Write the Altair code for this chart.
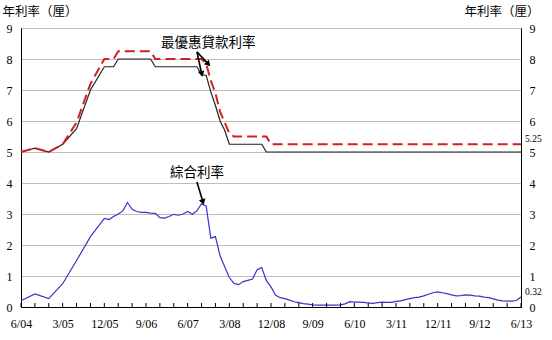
import math
import altair as alt
import pandas as pd

# ---- data (month index 0 = 6/04 ... 108 = 6/13) ----
tick_labels = ["6/04", "3/05", "12/05", "9/06", "6/07", "3/08", "12/08",
               "9/09", "6/10", "3/11", "12/11", "9/12", "6/13"]

prime_a_m = [0, 3, 6, 9, 12, 15, 18, 20, 21, 28, 29, 38, 39, 40, 41, 42, 43, 44, 45, 52, 53, 108]
prime_a_v = [5.0, 5.125, 5.0, 5.25, 5.75, 7.0, 7.75, 7.75, 8.0, 8.0, 7.75, 7.75, 7.5, 7.47,
             6.94, 6.5, 6.0, 5.7, 5.25, 5.25, 5.0, 5.0]

prime_b_m = [0, 3, 6, 9, 12, 15, 18, 20, 21, 28, 29, 38, 39, 40, 41, 42, 43, 44, 45, 46, 53, 54, 108]
prime_b_v = [5.0, 5.125, 5.0, 5.25, 5.95, 7.2, 8.0, 8.0, 8.25, 8.25, 8.0, 8.0, 8.0, 7.85,
             7.3, 6.9, 6.3, 5.95, 5.6, 5.5, 5.5, 5.25, 5.25]

comp_m = [0, 3, 6, 9, 12, 15] + list(range(18, 109))
comp_v = [0.20, 0.42, 0.27, 0.75, 1.50, 2.27,
          2.86, 2.82, 2.92, 3.00, 3.10, 3.37, 3.15, 3.08, 3.05, 3.05,
          3.03, 3.02, 2.88, 2.87, 2.92, 2.99, 2.96, 3.00, 3.08, 2.99,
          3.10, 3.33, 3.25, 2.22, 2.27, 1.65, 1.30, 0.95, 0.76, 0.72,
          0.82, 0.86, 0.90, 1.20, 1.27, 0.85, 0.65, 0.38, 0.30, 0.27,
          0.22, 0.17, 0.14, 0.11, 0.09, 0.07, 0.06, 0.06, 0.06, 0.06,
          0.06, 0.07, 0.10, 0.17, 0.16, 0.16, 0.15, 0.13, 0.12, 0.14,
          0.16, 0.15, 0.15, 0.18, 0.20, 0.24, 0.27, 0.30, 0.32, 0.36,
          0.41, 0.46, 0.49, 0.46, 0.43, 0.39, 0.36, 0.37, 0.39, 0.38,
          0.36, 0.35, 0.32, 0.30, 0.26, 0.22, 0.20, 0.19, 0.19, 0.21,
          0.32]

end_labels = ["5.25", "0.32"]
end_values = [5.25, 0.32]

note_text = ["最優惠貸款利率", "綜合利率"]
note_m = [40.45, 38.0]
note_v = [8.52, 4.32]

arrow_tail_m = [38.0, 38.0, 38.0]
arrow_tail_v = [8.23, 8.23, 4.03]
arrow_head_m = [39.1, 40.7, 39.4]
arrow_head_v = [7.47, 7.80, 3.34]

# ---- layout ----
W, H = 500, 279
XMAX, YMAX = 108, 9
pxm, pxv = W / XMAX, H / YMAX

x_scale = alt.Scale(domain=[0, XMAX], nice=False, zero=False)
y_scale = alt.Scale(domain=[0, YMAX], nice=False)
SERIF = "Liberation Serif"
CJK = "Noto Sans CJK TC"

label_expr = ("datum.value % 9 == 0 ? [" + ",".join("'%s'" % t for t in tick_labels)
              + "][round(datum.value / 9)] : ''")

df_a = pd.DataFrame({"m": prime_a_m, "v": prime_a_v})
df_b = pd.DataFrame({"m": prime_b_m, "v": prime_b_v})
df_c = pd.DataFrame({"m": comp_m, "v": comp_v})

x_axis = alt.Axis(values=list(range(0, XMAX + 1, 9)), labelExpr=label_expr, title=None,
                  ticks=False, tickSize=0, grid=False, labelFont=SERIF, labelFontSize=12,
                  labelColor="black", labelPadding=11, domainColor="black", labelFlush=False)
y_left = alt.Axis(values=list(range(0, 10)), title="年利率（厘）", titleAngle=0, titleX=-19,
                  titleY=-17, titleAlign="left", titleBaseline="middle", titleFont=CJK,
                  titleFontSize=12.5, titleFontWeight="normal", titleColor="black",
                  ticks=False, tickSize=0, labelPadding=9, labelFont=SERIF, labelFontSize=12,
                  labelColor="black", grid=True, gridColor="#bdbdbd", gridWidth=1,
                  domainColor="black")
y_right = alt.Axis(orient="right", values=list(range(0, 10)), title="年利率（厘）", titleAngle=0,
                   titleX=18, titleY=-17, titleAlign="right", titleBaseline="middle",
                   titleFont=CJK, titleFontSize=12.5, titleFontWeight="normal",
                   titleColor="black", ticks=False, tickSize=0, labelPadding=8,
                   labelFont=SERIF, labelFontSize=12, labelColor="black", grid=False,
                   domainColor="black")


def X(field):
    return alt.X(field, type="quantitative", scale=x_scale, axis=x_axis)


def Y(field, axis=None):
    return alt.Y(field, type="quantitative", scale=y_scale, axis=axis)


line_a = alt.Chart(df_a).mark_line(color="#222222", strokeWidth=1.2).encode(
    x=X("m"), y=Y("v", y_left))
line_c = alt.Chart(df_c).mark_line(color="#3535c8", strokeWidth=1.2).encode(
    x=X("m"), y=Y("v", y_right))
line_b = alt.Chart(df_b).mark_line(color="#d42020", strokeWidth=2, strokeDash=[10, 5]).encode(
    x=X("m"), y=Y("v"))

# inner tick marks on the bottom axis (every quarter)
ticks_df = pd.DataFrame({"m": list(range(0, XMAX + 1, 3))})
ticks = alt.Chart(ticks_df).mark_rule(color="black", strokeWidth=1).encode(
    x=X("m"), y=Y("y0"), y2="y1:Q",
).transform_calculate(y0="0", y1=str(4 / pxv))

end_df = pd.DataFrame({"m": [XMAX, XMAX], "v": end_values, "t": end_labels})
end_text = alt.Chart(end_df).mark_text(align="left", baseline="middle", dx=4, dy=-5,
                                       font=SERIF, fontSize=9.5, color="black").encode(
    x=X("m"), y=Y("v"), text="t:N")

note_df = pd.DataFrame({"m": note_m, "v": note_v, "t": note_text})
notes = alt.Chart(note_df).mark_text(align="center", baseline="middle", font=CJK,
                                     fontSize=13.5, color="black").encode(
    x=X("m"), y=Y("v"), text="t:N")

# arrows
angles, cm, cv = [], [], []
for tm, tv, hm, hv in zip(arrow_tail_m, arrow_tail_v, arrow_head_m, arrow_head_v):
    dx = (hm - tm) * pxm
    dy = -(hv - tv) * pxv
    ang = math.degrees(math.atan2(dx, -dy)) % 360
    L = math.hypot(dx, dy)
    back = 2.5
    cm.append(hm - dx / L * back / pxm)
    cv.append(hv + dy / L * back / pxv)
    angles.append(ang)
arrow_df = pd.DataFrame({"tm": arrow_tail_m, "tv": arrow_tail_v, "hm": cm, "hv": cv,
                         "ang": angles})
arrow_lines = alt.Chart(arrow_df).mark_rule(color="black", strokeWidth=1.6).encode(
    x=X("tm"), y=Y("tv"), x2="hm:Q", y2="hv:Q")
arrow_heads = alt.Chart(arrow_df).mark_point(shape="triangle", filled=True, color="black",
                                             size=45, opacity=1).encode(
    x=X("hm"), y=Y("hv"), angle=alt.Angle("ang:Q", scale=None))

chart = alt.layer(
    line_a, line_c, line_b, ticks, end_text, notes, arrow_lines, arrow_heads
).resolve_axis(y="independent").resolve_scale(y="shared").properties(
    width=W, height=H,
    padding={"left": 21, "top": 28, "right": 31, "bottom": 33},
    autosize=alt.AutoSizeParams(type="none"),
    background="white",
).configure_view(stroke="black", strokeWidth=1)

chart.save("out.html", embed_options={"renderer": "svg", "actions": False})
